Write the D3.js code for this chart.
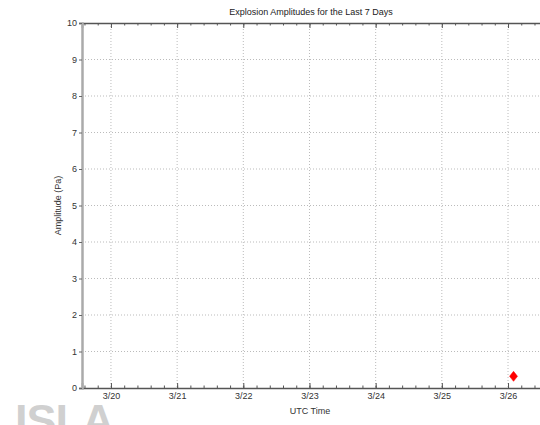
<!DOCTYPE html>
<html><head><meta charset="utf-8">
<script src="https://cdn.jsdelivr.net/npm/d3@7"></script>
<style>body{margin:0;background:#fff;}svg{display:block;font-family:"Liberation Sans",Arial,sans-serif;}</style>
</head><body>
<script>
// Data
const title = "Explosion Amplitudes for the Last 7 Days";
const xLabel = "UTC Time";
const yLabel = "Amplitude (Pa)";
const dayTicks = ["2024-03-20","2024-03-21","2024-03-22","2024-03-23","2024-03-24","2024-03-25","2024-03-26"];
const dayTickLabels = ["3/20","3/21","3/22","3/23","3/24","3/25","3/26"];
const eventTimes = ["2024-03-26T02:00:00Z"];
const amplitudes = [0.32];
const yTicks = [0,1,2,3,4,5,6,7,8,9,10];
const xDomain = ["2024-03-19T13:30:00Z","2024-03-26T14:30:00Z"];
const yDomain = [0,10];

const W=540,H=425;
const svg=d3.select("body").append("svg").attr("width",W).attr("height",H);
const L=82,T=23,B=388,R=548;
const x=d3.scaleUtc().domain(xDomain.map(d=>new Date(d))).range([L,R]);
const y=d3.scaleLinear().domain(yDomain).range([B,T]);

// watermark
svg.append("text").attr("x",15).attr("y",436).attr("font-size",45).attr("font-weight","bold")
  .attr("fill","#d0d0d0").attr("letter-spacing",-1).text("ISLA");

const majors=dayTicks.map(d=>new Date(d+"T00:00:00Z"));
// grid
const g=svg.append("g");
g.selectAll("line.vg").data(majors).join("line").attr("x1",d=>x(d)).attr("x2",d=>x(d))
  .attr("y1",T).attr("y2",B).attr("stroke","#bbb").attr("stroke-width",1).attr("stroke-dasharray","1,2");
g.selectAll("line.hg").data(yTicks.filter(v=>v>0&&v<10)).join("line").attr("x1",L).attr("x2",R)
  .attr("y1",d=>y(d)).attr("y2",d=>y(d)).attr("stroke","#bbb").attr("stroke-width",1).attr("stroke-dasharray","1,2");

// minor ticks every 4.8h
const d0=new Date(xDomain[0]), d1=new Date(xDomain[1]);
const minors=[];
const step=4.8*3600*1000;
for(let t=majors[0].getTime()-5*step;t<=d1.getTime();t+=step){ if(t>=d0.getTime()) minors.push(new Date(t)); }

// bottom axis
const xb=d3.axisBottom(x).tickValues(majors).tickFormat((d,i)=>dayTickLabels[i]).tickSize(-5).tickPadding(5);
const gb=svg.append("g").attr("transform",`translate(0,${B})`).call(xb);
const xt=d3.axisTop(x).tickValues(majors).tickFormat("").tickSize(-5);
const gt=svg.append("g").attr("transform",`translate(0,${T})`).call(xt);
[gb,gt].forEach(a=>{a.select(".domain").attr("stroke","#555").attr("stroke-width",1.5);
  a.selectAll(".tick line").attr("stroke","#555");
  a.selectAll("text").attr("font-size",9).attr("fill","#333");});
svg.append("g").attr("transform",`translate(0,${B})`).call(d3.axisBottom(x).tickValues(minors).tickFormat("").tickSize(-2.5))
  .call(a=>{a.select(".domain").remove();a.selectAll("line").attr("stroke","#555");});
svg.append("g").attr("transform",`translate(0,${T})`).call(d3.axisTop(x).tickValues(minors).tickFormat("").tickSize(-2.5))
  .call(a=>{a.select(".domain").remove();a.selectAll("line").attr("stroke","#555");});

// left axis
const ya=d3.axisLeft(y).tickValues(yTicks).tickSize(3).tickPadding(2);
const gl=svg.append("g").attr("transform",`translate(${L},0)`).call(ya);
gl.select(".domain").attr("stroke","#aaa").attr("stroke-width",2.5);
gl.selectAll(".tick line").attr("stroke","#666");
gl.selectAll("text").attr("font-size",9).attr("fill","#333");

// labels
svg.append("text").attr("x",311).attr("y",15).attr("text-anchor","middle").attr("font-size",9).attr("fill","#222").text(title);
svg.append("text").attr("x",310).attr("y",414).attr("text-anchor","middle").attr("font-size",9).attr("fill","#333").text(xLabel);
svg.append("text").attr("transform",`translate(61,${(T+B)/2}) rotate(-90)`).attr("text-anchor","middle").attr("font-size",9).attr("fill","#333").text(yLabel);

// points
svg.append("g").selectAll("path").data(amplitudes).join("path")
  .attr("transform",(d,i)=>`translate(${x(new Date(eventTimes[i]))},${y(d)})`)
  .attr("d","M0,-5L4,0L0,5L-4,0Z").attr("fill","#f00").attr("stroke","#f00").attr("stroke-width",0.5);
</script>
</body></html>
